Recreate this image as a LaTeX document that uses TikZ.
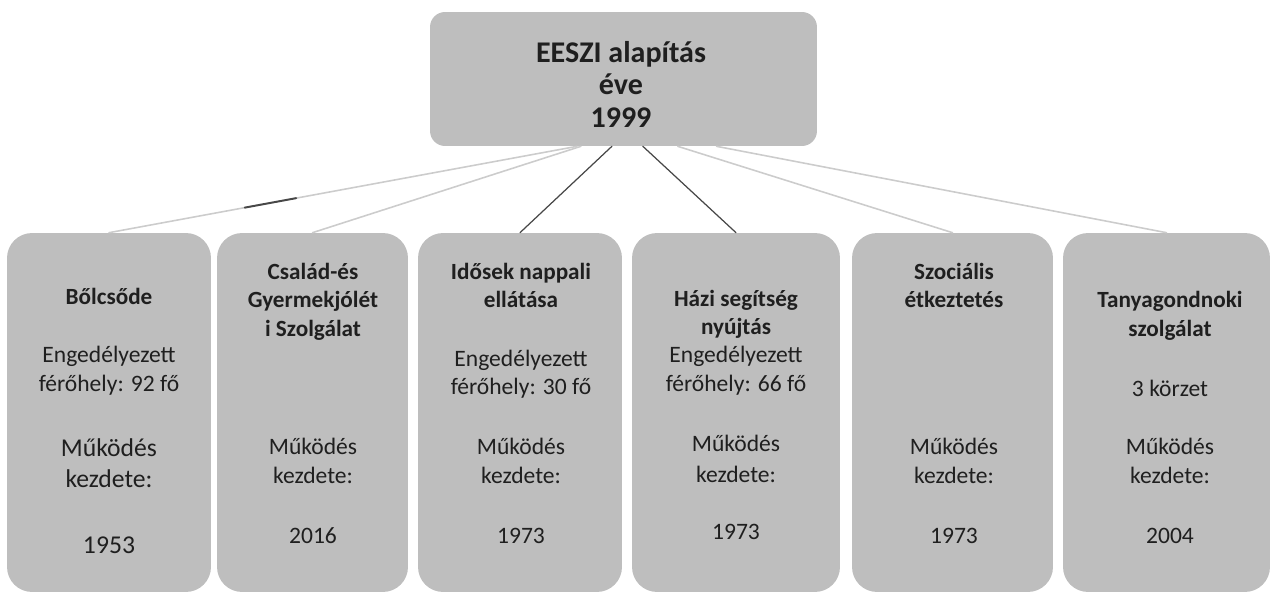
\documentclass[tikz,border=0pt]{standalone}
\usepackage{fontspec}
\setmainfont{Carlito}
\usetikzlibrary{calc}
\definecolor{bebebe}{rgb}{0.745,0.745,0.745}
\definecolor{cbcbcb}{rgb}{0.80,0.80,0.80}
\definecolor{qqqqqq}{rgb}{0.12,0.12,0.12}
\definecolor{sfsfsf}{rgb}{0.28,0.28,0.28}
\begin{document}
\begin{tikzpicture}[line cap=round,line join=round,x=0.02cm,y=-0.02cm,
  box/.style={fill=bebebe,draw=none,rounded corners=0.5cm,minimum height=7.18cm,inner sep=0pt},
  txt/.style={anchor=base,text=qqqqqq,inner sep=0pt,font=\fontsize{13.4}{16}\selectfont},
  head/.style={txt,font=\fontsize{13.2}{16}\selectfont\bfseries},
  big/.style={txt,font=\fontsize{14.6}{17}\selectfont},
  lite/.style={line width=0.9pt,color=cbcbcb},
  dark/.style={line width=0.7pt,color=sfsfsf}]
\useasboundingbox (0,0) rectangle (1275,594);
% top box
\node[box,rounded corners=0.3cm,minimum width=7.74cm,minimum height=2.68cm] (top) at (623.5,79) {};
\node[txt,font=\fontsize{17.1}{20}\selectfont\bfseries] (tt1) at (621,63) {EESZI alapítás};
\node[txt,font=\fontsize{17.1}{20}\selectfont\bfseries] (tt2) at (621,95) {éve};
\node[txt,font=\fontsize{17.1}{20}\selectfont\bfseries] (tt3) at (621,128) {1999};
% bottom boxes
\node[box,minimum width=4.08cm] (b1) at (109,412.5) {};
\node[box,minimum width=3.82cm] (b2) at (312.5,412.5) {};
\node[box,minimum width=4.08cm] (b3) at (520,412.5) {};
\node[box,minimum width=4.16cm] (b4) at (736,412.5) {};
\node[box,minimum width=4.02cm] (b5) at (952.5,412.5) {};
\node[box,minimum width=4.14cm] (b6) at (1166.5,412.5) {};
% Bolcsode
\node[head] (b1h) at (109,305) {Bőlcsőde};
\node[txt] (b1e) at (109,363) {Engedélyezett};
\node[txt] (b1f) at (109,392) {férőhely: 92 fő};
\node[big] (b1m) at (109,457) {Működés};
\node[big] (b1k) at (109,488) {kezdete:};
\node[big] (b1y) at (109,553) {1953};
% Csalad
\node[head] (b2h) at (313,280) {Család-és};
\node[head] (b2i) at (313,308) {Gyermekjólét};
\node[head] (b2j) at (313,337) {i Szolgálat};
\node[txt] (b2m) at (313,455) {Működés};
\node[txt] (b2k) at (313,483) {kezdete:};
\node[txt] (b2y) at (313,543) {2016};
% Idosek
\node[head] (b3h) at (521,280) {Idősek nappali};
\node[head] (b3i) at (521,308) {ellátása};
\node[txt] (b3e) at (521,367) {Engedélyezett};
\node[txt] (b3f) at (521,395) {férőhely: 30 fő};
\node[txt] (b3m) at (521,455) {Működés};
\node[txt] (b3k) at (521,483) {kezdete:};
\node[txt] (b3y) at (521,543) {1973};
% Hazi
\node[head] (b4h) at (736,307) {Házi segítség};
\node[head] (b4i) at (736,335) {nyújtás};
\node[txt] (b4e) at (736,363) {Engedélyezett};
\node[txt] (b4f) at (736,392) {férőhely: 66 fő};
\node[txt] (b4m) at (736,452) {Működés};
\node[txt] (b4k) at (736,482) {kezdete:};
\node[txt] (b4y) at (736,540) {1973};
% Szocialis
\node[head] (b5h) at (954,280) {Szociális};
\node[head] (b5i) at (954,308) {étkeztetés};
\node[txt] (b5m) at (954,455) {Működés};
\node[txt] (b5k) at (954,483) {kezdete:};
\node[txt] (b5y) at (954,543) {1973};
% Tanyagondnoki
\node[head] (b6h) at (1170,308) {Tanyagondnoki};
\node[head] (b6i) at (1170,337) {szolgálat};
\node[txt] (b6d) at (1170,397) {3 körzet};
\node[txt] (b6m) at (1170,455) {Működés};
\node[txt] (b6k) at (1170,483) {kezdete:};
\node[txt] (b6y) at (1170,543) {2004};
% connectors
\coordinate (t1) at ($(top.south west)!0.38!(top.south east)$);
\coordinate (t2) at ($(top.south west)!0.39!(top.south east)$);
\coordinate (t3) at ($(top.south west)!0.47!(top.south east)$);
\coordinate (t4) at ($(top.south west)!0.55!(top.south east)$);
\coordinate (t5) at ($(top.south west)!0.64!(top.south east)$);
\coordinate (t6) at ($(top.south west)!0.74!(top.south east)$);
\draw[lite] (t1) -- (b1.north);
\draw[lite] (t2) -- (b2.north);
\draw[dark] (t3) -- (b3.north);
\draw[dark] (t4) -- (b4.north);
\draw[lite] (t5) -- (b5.north);
\draw[lite] (t6) -- (b6.north);
\draw[dark,line width=1.1pt] ($(t1)!0.6!(b1.north)$) -- ($(t1)!0.71!(b1.north)$);
\end{tikzpicture}
\end{document}
